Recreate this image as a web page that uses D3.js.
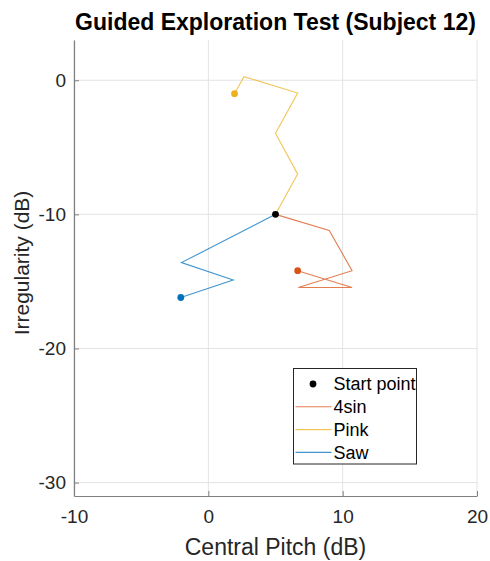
<!DOCTYPE html>
<html>
<head>
<meta charset="utf-8">
<script src="https://cdn.jsdelivr.net/npm/d3@7"></script>
<style>
  body { margin: 0; background: #fff; }
  text { font-family: "Liberation Sans", Arial, sans-serif; fill: #262626; }
</style>
</head>
<body>
<div id="chart"></div>
<script>
// Chart data
var startPoint = [5, -10];
var seriesNames = ["4sin", "Pink", "Saw"];
var seriesColors = ["#D95319", "#EDB120", "#0072BD"];
var sinPath = [[5, -10], [9.0, -11.2], [10.7, -14.2], [6.7, -15.45], [10.7, -15.45], [6.65, -14.2]];
var pinkPath = [[5, -10], [6.65, -7.0], [5.0, -3.95], [6.65, -0.95], [2.65, 0.27], [1.95, -1.0]];
var sawPath = [[5, -10], [-2.0, -13.6], [1.85, -14.9], [-2.05, -16.2]];
var xTicks = [-10, 0, 10, 20];
var yTicks = [0, -10, -20, -30];
var xDomain = [-10, 20];
var yDomain = [-31, 3];

var width = 490, height = 561;
var margin = { left: 74, right: 13, top: 40, bottom: 65 };

var svg = d3.select("#chart").append("svg")
    .attr("width", width)
    .attr("height", height);

var x = d3.scaleLinear().domain(xDomain).range([margin.left, width - margin.right]);
var y = d3.scaleLinear().domain(yDomain).range([height - margin.bottom, margin.top]);

//Grid lines
var grid = svg.append("g").attr("stroke", "#e3e3e3").attr("stroke-width", 1);
xTicks.forEach(function (t) {
    grid.append("line").attr("x1", x(t)).attr("x2", x(t))
        .attr("y1", y(yDomain[0])).attr("y2", y(yDomain[1]));
});
yTicks.forEach(function (t) {
    grid.append("line").attr("y1", y(t)).attr("y2", y(t))
        .attr("x1", x(xDomain[0])).attr("x2", x(xDomain[1]));
});

//Axes (ticks pointing inward, like MATLAB)
var xAxis = svg.append("g")
    .attr("transform", "translate(0," + y(yDomain[0]) + ")")
    .call(d3.axisBottom(x).tickValues(xTicks).tickSizeInner(-5).tickSizeOuter(0).tickPadding(14));
var yAxis = svg.append("g")
    .attr("transform", "translate(" + x(xDomain[0]) + ",0)")
    .call(d3.axisLeft(y).tickValues(yTicks).tickSizeInner(-5).tickSizeOuter(0).tickPadding(8));

[xAxis, yAxis].forEach(function (a) {
    a.select(".domain").attr("stroke", "#7f7f7f").attr("stroke-width", 1.2);
    a.selectAll(".tick line").attr("stroke", "#7f7f7f");
    a.selectAll(".tick text").style("font-size", "19px").attr("fill", "#262626")
        .style("font-family", "'Liberation Sans', Arial, sans-serif");
});
yAxis.selectAll(".tick text").text(function (d) { return d; });
xAxis.selectAll(".tick text").text(function (d) { return d; });

//Series lines
var line = d3.line().x(function (d) { return x(d[0]); }).y(function (d) { return y(d[1]); });
var paths = [sinPath, pinkPath, sawPath];
paths.forEach(function (p, i) {
    svg.append("path")
        .attr("d", line(p))
        .attr("fill", "none")
        .attr("stroke", seriesColors[i])
        .attr("stroke-opacity", 0.75)
        .attr("stroke-width", 1.1);
});

//End points
paths.forEach(function (p, i) {
    var last = p[p.length - 1];
    svg.append("circle")
        .attr("cx", x(last[0])).attr("cy", y(last[1]))
        .attr("r", 3.4)
        .attr("fill", seriesColors[i]);
});

//Start point
svg.append("circle")
    .attr("cx", x(startPoint[0])).attr("cy", y(startPoint[1]))
    .attr("r", 3.4)
    .attr("fill", "#000");

//Title and axis labels
svg.append("text")
    .attr("x", (x(xDomain[0]) + x(xDomain[1])) / 2)
    .attr("y", 30)
    .attr("text-anchor", "middle")
    .style("font-size", "23px")
    .style("font-weight", "bold")
    .style("fill", "#000")
    .text("Guided Exploration Test (Subject 12)");

svg.append("text")
    .attr("x", (x(xDomain[0]) + x(xDomain[1])) / 2)
    .attr("y", 555)
    .attr("text-anchor", "middle")
    .style("font-size", "23px")
    .text("Central Pitch (dB)");

svg.append("text")
    .attr("transform", "translate(29," + 263 + ") rotate(-90)")
    .attr("text-anchor", "middle")
    .style("font-size", "21px")
    .text("Irregularity (dB)");

//Legend
var legend = svg.append("g").attr("transform", "translate(293.5,368.5)");
legend.append("rect")
    .attr("width", 123).attr("height", 95.5)
    .attr("fill", "#fff")
    .attr("stroke", "#262626")
    .attr("stroke-width", 1);

var legendItems = ["Start point"].concat(seriesNames);
legendItems.forEach(function (name, i) {
    var cy = 15.5 + i * 22.8;
    if (i === 0) {
        legend.append("circle").attr("cx", 19.5).attr("cy", cy).attr("r", 3.4).attr("fill", "#000");
    } else {
        legend.append("line")
            .attr("x1", 2).attr("x2", 38)
            .attr("y1", cy).attr("y2", cy)
            .attr("stroke", seriesColors[i - 1])
            .attr("stroke-opacity", 0.75)
            .attr("stroke-width", 1.1);
    }
    legend.append("text")
        .attr("x", 40)
        .attr("y", cy)
        .attr("dy", "0.36em")
        .style("font-size", "18px")
        .style("fill", "#000")
        .text(name);
});
</script>
</body>
</html>
